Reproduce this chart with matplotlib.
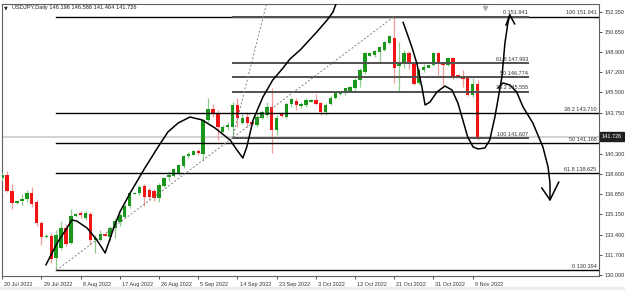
import numpy as np
import pandas as pd
import matplotlib
matplotlib.use("Agg")
import matplotlib.pyplot as plt
import matplotlib.transforms as mtransforms
from matplotlib.patches import Rectangle

plt.rcParams['font.family'] = ['Liberation Sans', 'DejaVu Sans']

# daily bars incl. the short sunday candles of the broker feed
dates = [d for d in pd.date_range("2022-07-20", "2022-11-10") if d.weekday() != 5]

opens = [138.20, 138.45, 137.10, 136.15, 136.30, 136.45, 137.00, 136.20, 134.45, 133.20,
         133.35, 131.40, 132.30, 133.95, 132.75, 135.00, 135.25, 134.85, 135.20, 132.95,
         133.00, 133.45, 133.20, 134.00, 134.50, 134.95, 135.85, 136.90, 137.00, 137.55,
         137.20, 137.10, 136.50, 137.55, 138.30, 138.40, 138.60, 139.25, 140.10, 140.20,
         140.55, 140.30, 143.15, 144.10, 143.75, 142.15, 142.55, 142.60, 144.43, 142.90,
         143.40, 143.00, 142.75, 143.35, 143.60, 144.28, 142.35, 143.73, 143.44, 144.49,
         144.73, 144.37, 144.43, 144.70, 144.85, 144.57, 143.81, 144.49, 145.05, 145.35,
         145.42, 145.60, 145.85, 146.55, 147.26, 148.60, 148.67, 148.95, 149.10, 149.72,
         150.09, 147.70, 147.97, 148.85, 147.90, 146.30, 147.40, 147.60, 147.83, 148.82,
         148.00, 147.83, 148.40, 146.98, 146.84, 146.70, 145.28, 146.196]
highs = [138.70, 138.85, 137.70, 136.40, 136.85, 137.20, 137.45, 136.40, 134.60, 133.45,
         133.60, 133.80, 134.60, 134.30, 135.58, 135.30, 135.45, 135.40, 135.35, 133.40,
         133.80, 133.55, 134.20, 134.80, 135.30, 136.00, 137.00, 137.05, 137.65, 137.70,
         137.40, 137.30, 137.80, 138.30, 138.80, 139.10, 139.40, 140.20, 140.40, 140.60,
         140.70, 143.25, 145.00, 144.50, 144.00, 142.70, 143.00, 144.70, 145.00, 143.70,
         143.80, 143.05, 143.80, 144.00, 144.70, 145.85, 143.60, 143.80, 144.70, 145.00,
         145.00, 144.70, 145.00, 144.90, 145.35, 144.70, 144.60, 145.20, 145.55, 145.55,
         145.90, 146.05, 146.70, 147.60, 148.90, 148.90, 149.10, 149.40, 149.90, 150.40,
         151.941, 149.75, 149.10, 149.00, 148.00, 147.60, 147.90, 147.85, 148.95, 148.95,
         148.05, 148.50, 148.50, 147.00, 147.40, 146.85, 146.70, 146.586]
lows = [138.00, 137.05, 135.60, 136.05, 135.95, 136.20, 135.75, 134.20, 132.55, 133.10,
        131.00, 130.394, 132.10, 132.50, 132.60, 134.95, 134.80, 134.70, 132.55, 131.90,
        132.90, 133.30, 132.90, 133.10, 134.20, 134.80, 135.70, 136.85, 136.80, 135.85,
        136.40, 136.30, 136.20, 137.50, 137.95, 138.30, 138.50, 139.10, 139.90, 140.15,
        140.20, 139.70, 143.00, 143.40, 141.50, 142.10, 142.30, 141.607, 142.60, 142.80,
        142.60, 142.75, 142.60, 143.20, 143.40, 140.33, 141.90, 143.45, 143.30, 144.30,
        144.00, 144.20, 144.30, 144.65, 144.40, 143.60, 143.60, 144.40, 144.90, 145.30,
        145.30, 145.50, 145.70, 146.00, 147.10, 148.55, 148.50, 148.10, 149.00, 149.60,
        146.27, 145.60, 147.60, 147.50, 146.10, 146.10, 147.20, 147.55, 147.70, 146.98,
        146.13, 147.70, 146.60, 146.75, 146.00, 145.20, 145.10, 141.464]
closes = [138.45, 137.10, 136.10, 136.30, 136.45, 137.00, 136.00, 134.45, 133.20, 133.35,
          131.35, 133.40, 134.00, 132.65, 135.00, 135.15, 135.05, 135.30, 132.95, 133.10,
          133.50, 133.35, 134.00, 134.60, 135.10, 135.85, 136.93, 137.00, 137.50, 136.65,
          136.65, 136.50, 137.60, 138.20, 138.45, 139.00, 139.30, 140.10, 140.27, 140.55,
          140.38, 143.15, 144.07, 143.75, 142.60, 142.60, 142.75, 144.43, 143.30, 143.35,
          142.90, 142.80, 143.44, 143.86, 144.28, 142.30, 143.30, 143.50, 144.49, 144.94,
          144.43, 144.49, 144.85, 144.85, 144.49, 143.81, 144.43, 145.05, 145.42, 145.50,
          145.85, 145.95, 146.55, 147.40, 148.82, 148.82, 149.04, 149.33, 149.82, 150.30,
          147.54, 148.00, 148.82, 147.90, 146.20, 147.40, 147.65, 147.80, 148.82, 147.97,
          147.85, 148.40, 146.70, 146.78, 146.61, 145.28, 146.20, 141.726]

# fibonacci tools: (label, price)
fib_a_labels = ["100 151.941", "38.2 143.710", "50 141.168", "61.8 138.625", "0 130.394"]
fib_a_prices = [151.941, 143.710, 141.168, 138.625, 130.394]
fib_b_labels = ["0 151.941", "61.8 147.993", "50 146.774", "38.2 145.555", "100 141.607"]
fib_b_prices = [151.941, 147.993, 146.774, 145.555, 141.607]

# dotted trend lines (bar, price)
trend1_bars = [11, 80]
trend1_prices = [130.394, 151.941]
trend2_bars = [47, 53.27]
trend2_prices = [141.607, 151.941]

# hand drawn projection paths (bar, price)
path1_bars = [8.9, 11.2, 13.2, 14.2, 15.2, 17.3, 19.3, 21.0, 22.6, 24.0, 25.0, 26.1, 29.1,
              31.8, 33.8, 35.9, 38.3, 40.8, 43.4, 46.5, 47.9, 49.1, 49.9, 51.2, 53.2, 55.2,
              57.3, 58.7, 60.8, 64.2, 66.3, 67.5, 68.1]
path1_prices = [130.85, 132.71, 133.99, 134.67, 134.58, 133.99, 132.97, 131.87, 133.82,
                135.35, 136.11, 136.96, 139.08, 140.87, 142.14, 142.90, 143.41, 143.16,
                142.48, 141.46, 140.61, 139.93, 140.86, 143.16, 145.11, 146.55, 147.57,
                148.33, 149.10, 150.63, 151.64, 152.32, 153.00]
path2_bars = [81.8, 83.6, 84.6, 85.65, 86.3, 87.3, 88.7, 90.35, 91.8, 93.0, 94.0, 95.0,
              96.1, 97.1, 98.5, 99.5, 100.55, 101.16, 101.98, 102.6, 103.2, 103.6]
path2_prices = [151.47, 149.35, 147.99, 145.96, 144.43, 144.68, 145.53, 146.04, 145.70,
                144.60, 143.16, 141.71, 140.87, 140.70, 140.78, 141.46, 143.41, 144.85,
                146.80, 149.69, 151.39, 152.07]
path3_bars = [101.16, 102.2, 103.6, 105.0, 106.3, 108.3, 110.35, 111.4, 111.8, 111.8]
path3_prices = [145.87, 146.30, 146.13, 145.53, 144.26, 142.90, 140.87, 139.17, 137.81, 136.37]

price_ticks = [152.35, 150.65, 148.90, 147.20, 145.50, 143.75, 142.05, 140.30, 138.60,
               136.85, 135.15, 133.40, 131.70, 130.00]

title = "USDJPY,Daily 146.196 146.586 141.464 141.726"
last_price = 141.726

W, H = 625, 290
fig = plt.figure(figsize=(W / 100, H / 100), dpi=100)
fig.patch.set_facecolor("white")
ax = fig.add_axes([2 / W, 1 - 276 / H, 597 / W, 272 / H])

x = np.arange(len(dates))
o = np.array(opens)
c = np.array(closes)
up = c >= o

bull, bull_w = "#1a961a", "#8fcc8f"
bear, bear_w = "#f01414", "#f39a9a"

ax.vlines(x, lows, highs, colors=np.where(up, bull_w, bear_w), lw=0.9, zorder=3)
body_lo = np.minimum(o, c)
body_h = np.maximum(np.abs(c - o), 0.08)
ax.bar(x, body_h, bottom=body_lo, width=0.7, color=np.where(up, bull, bear),
       linewidth=0, zorder=4)

# bid line
ax.axhline(last_price, color="#d2d2d2", lw=1.4, zorder=1)

x_right = 121.8
fib_b_end = 107.3

for lab, p in zip(fib_a_labels, fib_a_prices):
    ax.plot([11, x_right], [p, p], color="black", lw=1.0, zorder=5)
    ax.annotate(lab, (121.3, p), xytext=(0, 1), textcoords="offset points",
                ha="right", va="bottom", fontsize=4, color="#333333", zorder=7)
for lab, p in zip(fib_b_labels, fib_b_prices):
    ax.plot([47, fib_b_end], [p, p], color="#505050", lw=1.4, zorder=5)
    ax.annotate(lab, (fib_b_end, p), xytext=(0, 1), textcoords="offset points",
                ha="right", va="bottom", fontsize=4, color="#333333", zorder=7)

# dotted lines
dot = dict(color="#808080", lw=0.7, ls=(0, (2, 2)), zorder=5)
ax.plot(trend1_bars, trend1_prices, **dot)
s2 = (trend2_prices[1] - trend2_prices[0]) / (trend2_bars[1] - trend2_bars[0])
ax.plot([trend2_bars[0], 56], [trend2_prices[0], trend2_prices[0] + s2 * (56 - trend2_bars[0])], **dot)

pen = dict(color="black", lw=1.1, zorder=6, solid_capstyle="round", solid_joinstyle="round")
ax.plot(path1_bars, path1_prices, **pen)
ax.plot(path2_bars, path2_prices, **pen)
ax.plot(path3_bars, path3_prices, **pen)
# arrow heads
ax.plot([102.8, path2_bars[-1], 104.6], [151.2, path2_prices[-1], 151.3], **pen)
ax.plot([110.1, path3_bars[-1], 113.6], [137.4, path3_prices[-1], 137.9], **pen)

ax.set_xlim(-0.06, x_right)
ax.set_ylim(129.914, 153.004)

# axes style
for sp in ax.spines.values():
    sp.set_color("#606060")
    sp.set_linewidth(0.8)
ax.yaxis.tick_right()
ax.set_yticks(price_ticks)
# the label under the current price box is hidden
ax.set_yticklabels(["" if abs(v - last_price) < 0.5 else f"{v:.3f}" for v in price_ticks])
ax.tick_params(axis="y", length=2.5, width=0.6, pad=1.2, labelsize=4, colors="#333333")

tick_idx = list(range(0, len(dates), 8))
ax.set_xticks(tick_idx)
ax.set_xticklabels([f"{dates[i].day} {dates[i].strftime('%b %Y')}" for i in tick_idx])
ax.tick_params(axis="x", length=2.5, width=0.6, pad=1.5, labelsize=4, colors="#333333")
off = mtransforms.ScaledTranslation(1.5 / 72, 0, fig.dpi_scale_trans)
for lab in ax.get_xticklabels():
    lab.set_horizontalalignment("left")
    lab.set_transform(lab.get_transform() + off)

# current price box
ax.annotate(f"{last_price:.3f}", (1.0, last_price), xycoords=("axes fraction", "data"),
            xytext=(2, 0), textcoords="offset points", ha="left", va="center",
            fontsize=4, color="white", annotation_clip=False, zorder=8,
            bbox=dict(boxstyle="square,pad=0.35", fc="#202020", ec="#202020"))

# header text
fig.text(4 / W, 1 - 8 / H, "\u25bc", fontsize=3.5, va="center", ha="left", color="#222222",
         family=["DejaVu Sans"])
fig.text(12 / W, 1 - 8 / H, title, fontsize=4.1, va="center", ha="left", color="#222222")

# chart shift marker
ax.plot([0.809], [0.985], marker="v", ms=3, color="#b0b0b0", transform=ax.transAxes,
        clip_on=False, zorder=8)

fig.patches.append(Rectangle((0, 0), 1, 3 / H, transform=fig.transFigure,
                             color="#ececec", zorder=0))

fig.savefig("out.png", dpi=100)
